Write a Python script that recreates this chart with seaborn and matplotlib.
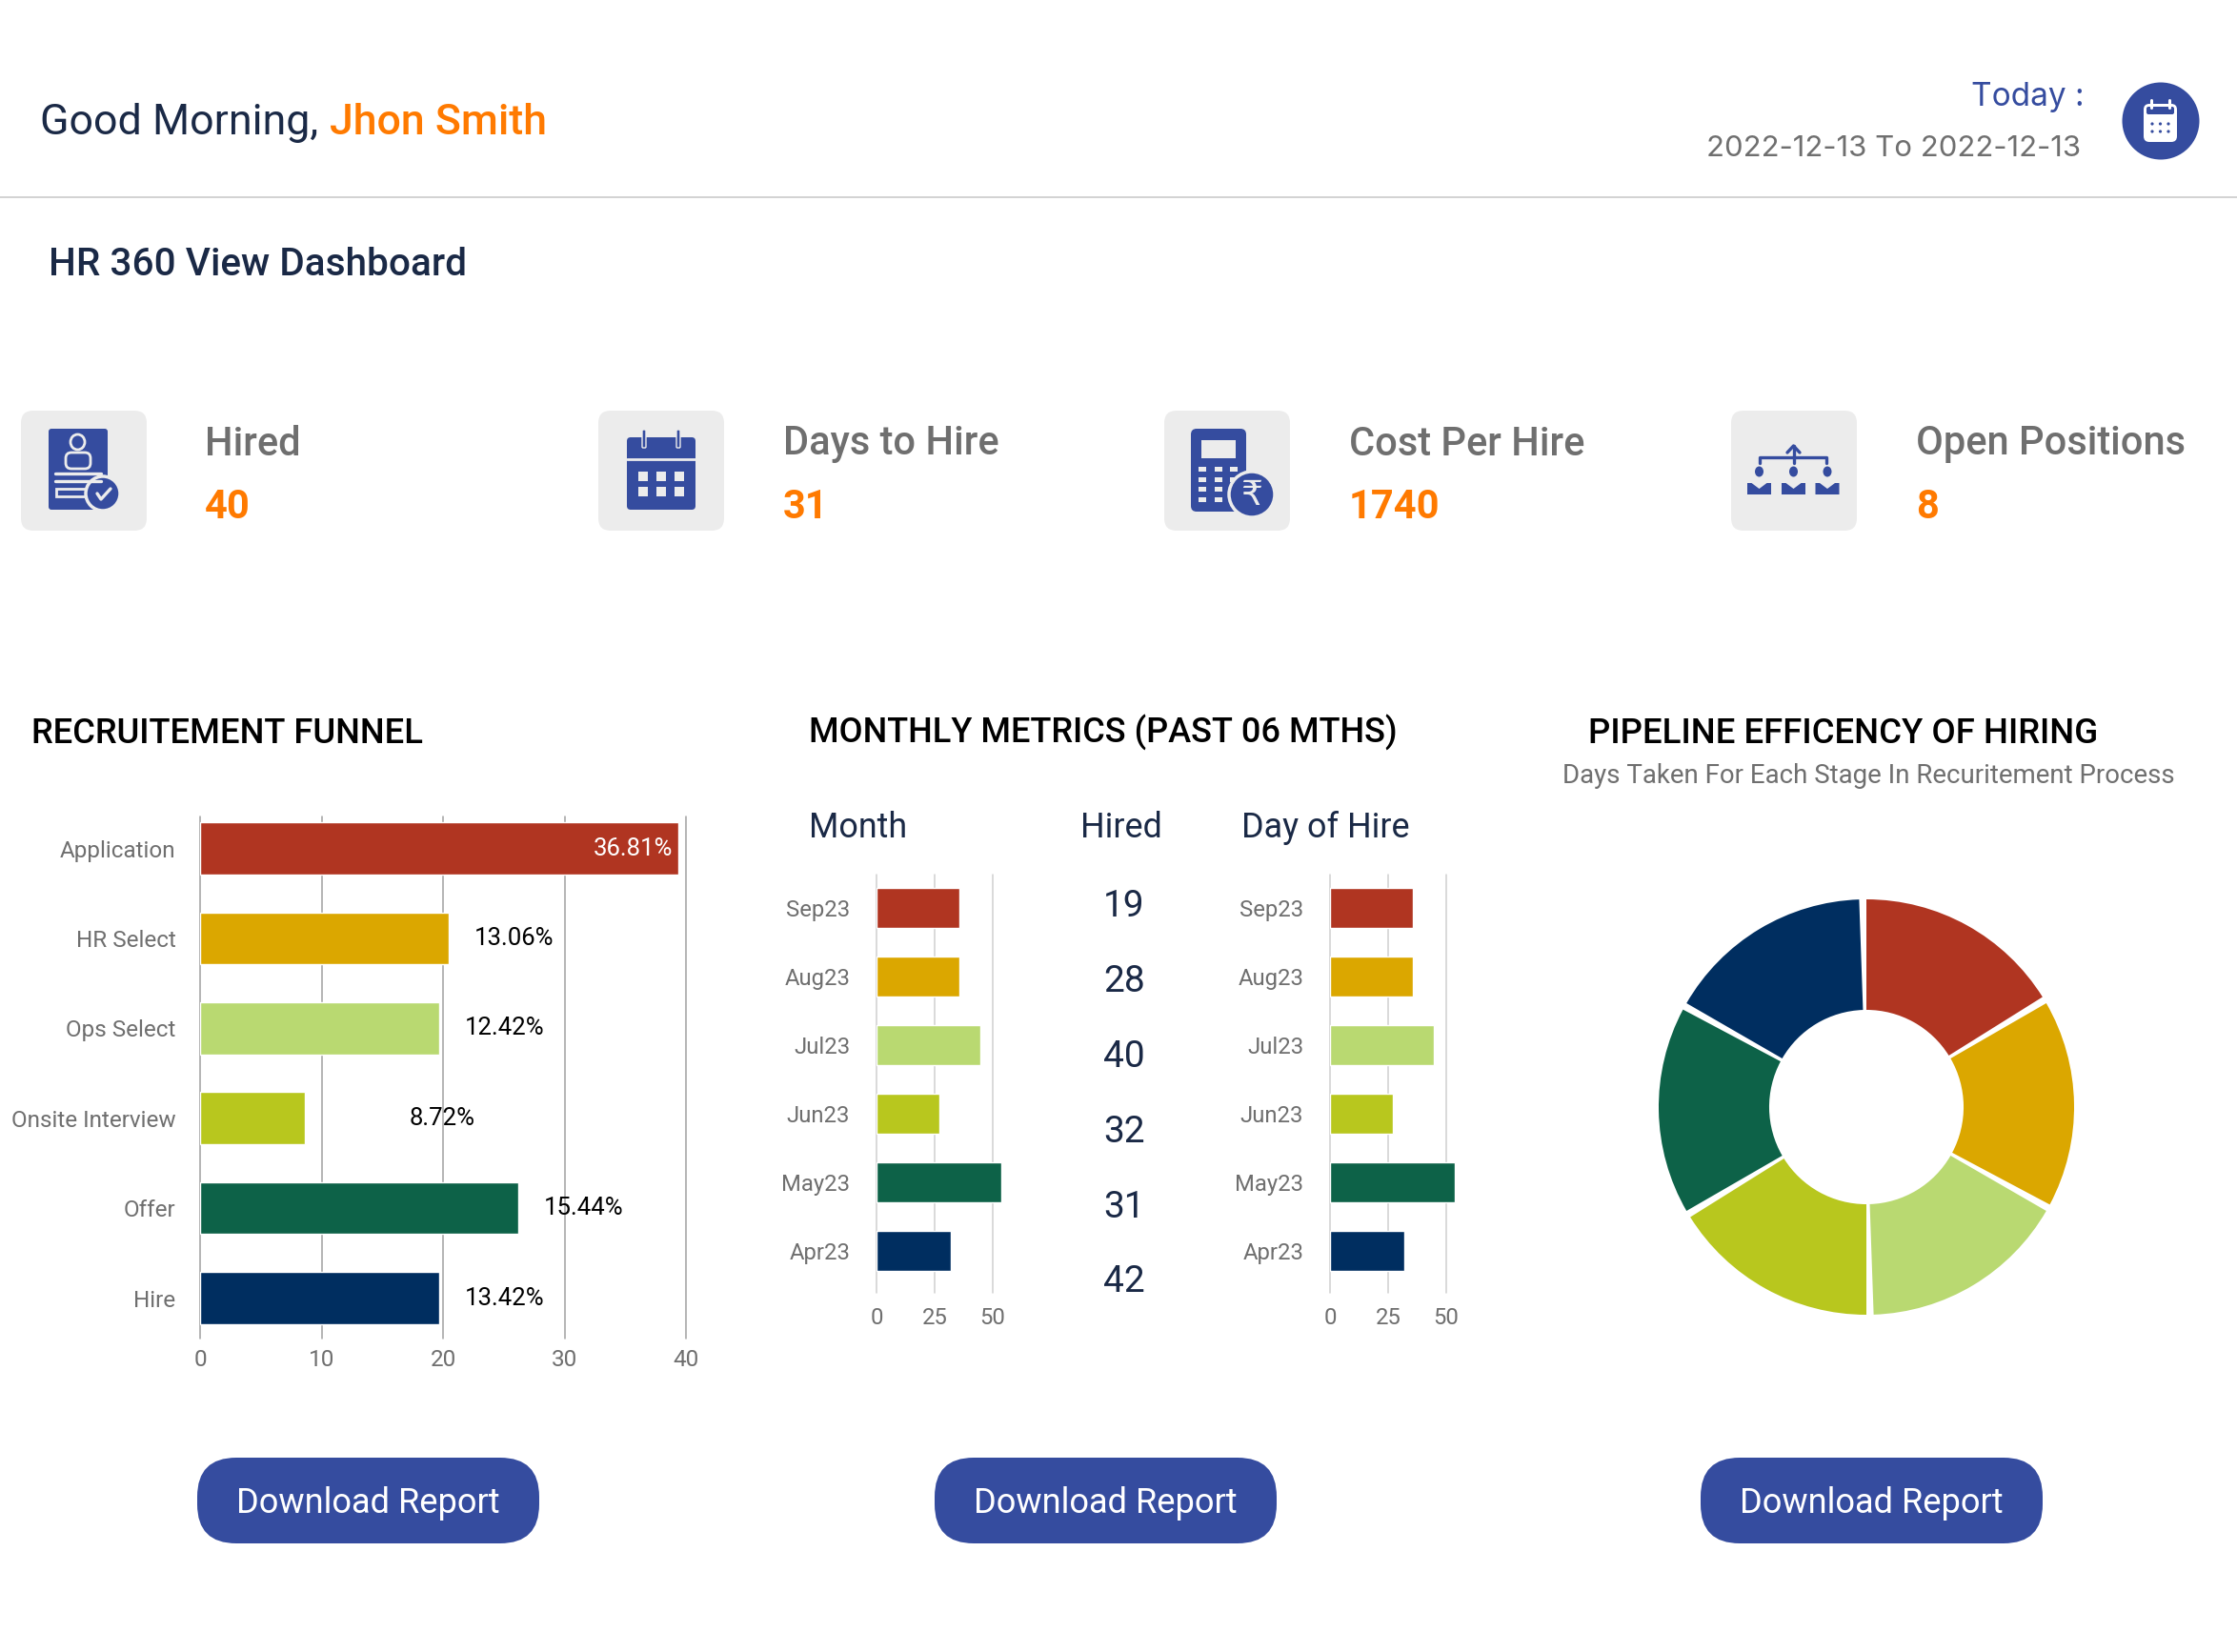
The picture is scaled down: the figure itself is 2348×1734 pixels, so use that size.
import matplotlib
matplotlib.use("Agg")
import matplotlib.pyplot as plt
from matplotlib.patches import FancyBboxPatch, Circle, Ellipse, Rectangle, Polygon
import seaborn as sns

W, H = 2348, 1734

# funnel
funnel_stages = ["Application", "HR Select", "Ops Select", "Onsite Interview", "Offer", "Hire"]
funnel_values = [39.35, 20.5, 19.7, 8.65, 26.2, 19.7]
funnel_labels = ["36.81%", "13.06%", "12.42%", "8.72%", "15.44%", "13.42%"]
funnel_ticks = [0, 10, 20, 30, 40]

# monthly metrics
months = ["Sep23", "Aug23", "Jul23", "Jun23", "May23", "Apr23"]
month_values = [35.5, 35.5, 44.5, 27, 53.5, 32]
day_of_hire_values = [35.5, 35.5, 44.5, 27, 53.5, 32]
hired_counts = [19, 28, 40, 32, 31, 42]
month_ticks = [0, 25, 50]

# pipeline donut, six equal stages
pipeline_stages = ["Application", "HR Select", "Ops Select", "Onsite Interview", "Offer", "Hire"]
pipeline_days = [5, 5, 5, 5, 5, 5]

# kpi cards
kpi_names = ["Hired", "Days to Hire", "Cost Per Hire", "Open Positions"]
kpi_values = ["40", "31", "1740", "8"]

colors = ["#B03521", "#DBA700", "#B9D971", "#B8C71E", "#0D6248", "#002E60"]
BLUE = "#354C9F"
ORANGE = "#FF7A00"
NAVY = "#1A2946"
GREY = "#6F6F6F"
CARD = "#ECECEC"

sns.set_theme(style="white")
plt.rcParams["font.family"] = ["Roboto", "DejaVu Sans"]

fig = plt.figure(figsize=(W / 100, H / 100), dpi=100, facecolor="white")
bg = fig.add_axes([0, 0, 1, 1])
bg.set_xlim(0, W)
bg.set_ylim(H, 0)
bg.axis("off")


def px_axes(left, top, right, bottom):
    ax = fig.add_axes([left / W, 1 - bottom / H, (right - left) / W, (bottom - top) / H])
    ax.patch.set_alpha(0)
    return ax


def round_box(x0, y0, x1, y1, r, color, **kw):
    bg.add_patch(FancyBboxPatch((x0 + r, y0 + r), x1 - x0 - 2 * r, y1 - y0 - 2 * r,
                                boxstyle=f"round,pad={r}", fc=color, ec="none", **kw))


def hbar(ax, labels, values, ticks, grid_color, size):
    sns.barplot(x=values, y=labels, hue=labels, palette=colors, legend=False,
                orient="h", width=0.58, ax=ax, saturation=1)
    sns.despine(ax=ax, left=True, bottom=True, top=True, right=True)
    ax.set_axisbelow(True)
    ax.xaxis.grid(True, color=grid_color, lw=1.1)
    ax.yaxis.grid(False)
    ax.set_xticks(ticks)
    ax.tick_params(axis="both", length=0, labelsize=size, labelcolor=GREY)
    ax.set_xlabel("")
    ax.set_ylabel("")
    for line in ax.get_xgridlines():
        line.set_clip_on(False)


# header
bg.text(42, 129, "Good Morning, ", fontsize=32.2, color=NAVY, va="center")
bg.text(346, 129, "Jhon Smith", fontsize=32.2, color=ORANGE, va="center", fontweight="medium")
bg.text(2188, 102, "Today :", fontsize=24, color=BLUE, va="center", ha="right", family="Inter")
bg.text(2184, 156, "2022-12-13 To 2022-12-13", fontsize=22.4, color=GREY, va="center", ha="right", family="Inter")
bg.plot([0, W], [207, 207], color="#D2D2D2", lw=1.4)
bg.text(51, 278, "HR 360 View Dashboard", fontsize=29.2, color=NAVY, va="center", fontweight="medium")

# top right calendar button
bg.add_patch(Circle((2268, 127), 40.5, fc=BLUE, ec="none"))
round_box(2250, 109, 2285, 149, 6, "white")
round_box(2253, 112, 2282, 120, 2, BLUE)
for x in (2258, 2277):
    bg.plot([x, x], [105, 113], color="white", lw=2.2)
for y in (130, 138):
    for x in (2259, 2267.5, 2276):
        bg.add_patch(Circle((x, y), 1.6, fc=BLUE, ec="none"))

# kpi cards
card_lefts = [22, 628, 1222, 1817]
text_lefts = [215, 822, 1416, 2011]
for left, tx, name, val in zip(card_lefts, text_lefts, kpi_names, kpi_values):
    round_box(left, 431, left + 132, 557, 13, CARD)
    bg.text(tx, 466, name, fontsize=30, color=GREY, va="center", fontweight="medium")
    bg.text(tx, 532, val, fontsize=30, color=ORANGE, va="center", fontweight="bold")

# icon: document with person
round_box(51, 450, 113, 535, 3, BLUE)
bg.add_patch(Ellipse((81.5, 464), 15, 16, fc="none", ec=CARD, lw=2))
bg.add_patch(FancyBboxPatch((75, 481), 14, 5, boxstyle="round,pad=6", fc="none", ec=CARD, lw=2))
for y in (497, 505):
    bg.plot([58, 106], [y, y], color=CARD, lw=2.4)
bg.add_patch(Rectangle((59, 513), 34, 8, fc="none", ec=CARD, lw=2))
bg.add_patch(Circle((108, 518), 18, fc=BLUE, ec=CARD, lw=2.5))
bg.plot([102, 106, 116], [518, 524, 513], color=CARD, lw=2.4)

# icon: calendar
round_box(658, 459, 730, 535, 4, BLUE)
bg.plot([658, 730], [482, 482], color=CARD, lw=2)
for x in (676, 712):
    bg.add_patch(FancyBboxPatch((x - 1, 452), 2, 17, boxstyle="round,pad=1", fc=BLUE, ec=CARD, lw=1))
for y in (495, 511):
    for x in (670, 689, 708):
        bg.add_patch(Rectangle((x, y), 10, 10, fc=CARD, ec="none"))

# icon: calculator with rupee
round_box(1250, 450, 1308, 537, 6, BLUE)
bg.add_patch(Rectangle((1261, 462), 36, 19, fc=CARD, ec="none"))
for y in (490, 501, 511, 522):
    for x in (1258, 1275, 1291):
        bg.add_patch(Rectangle((x, y), 8, 4.5, fc=CARD, ec="none"))
bg.add_patch(Circle((1314, 519), 24, fc=BLUE, ec=CARD, lw=2.5))
bg.text(1314, 520, "\u20b9", fontsize=26, color=CARD, ha="center", va="center", family="DejaVu Sans")

# icon: org tree
bg.plot([1847, 1847, 1917, 1917], [486, 480, 480, 486], color=BLUE, lw=2.4)
bg.plot([1882.5, 1882.5], [468, 486], color=BLUE, lw=2.4)
bg.plot([1876, 1882.5, 1889], [475, 468, 475], color=BLUE, lw=2.4)
for cx in (1846.5, 1882.5, 1918):
    bg.add_patch(Ellipse((cx, 495), 9, 11, fc=BLUE, ec="none"))
    bg.add_patch(Polygon([(cx - 12.5, 519), (cx - 12.5, 507), (cx - 8, 507), (cx, 513),
                          (cx + 8, 507), (cx + 12.5, 507), (cx + 12.5, 519)], fc=BLUE, ec="none"))

# section titles
bg.text(33, 770, "RECRUITEMENT FUNNEL", fontsize=26.2, color="black", va="center", fontweight="medium")
bg.text(849, 769, "MONTHLY METRICS (PAST 06 MTHS)", fontsize=26, color="black", va="center", fontweight="medium")
bg.text(1667, 770, "PIPELINE EFFICENCY OF HIRING", fontsize=26.4, color="black", va="center", fontweight="medium")
bg.text(1640, 815, "Days Taken For Each Stage In Recuritement Process", fontsize=19.9, color=GREY, va="center")

# funnel bars
ax1 = px_axes(210, 857, 210 + 41 * 12.75, 1405)
hbar(ax1, funnel_stages, funnel_values, funnel_ticks, "#A0A0A0", 17.5)
ax1.set_xlim(0, 41)
ax1.set_ylim(5.45, -0.355)
ax1.tick_params(axis="y", pad=18.4)
ax1.tick_params(axis="x", pad=7.7)
label_gaps = [None, 26, 27, 109, 27, 27]
for i, (val, lab, gap) in enumerate(zip(funnel_values, funnel_labels, label_gaps)):
    if gap is None:
        ax1.annotate(lab, (val, i), xytext=(-6, 0), textcoords="offset pixels", ha="right",
                     va="center", color="white", fontsize=18.5)
    else:
        ax1.annotate(lab, (val, i), xytext=(gap, 0), textcoords="offset pixels", ha="left",
                     va="center", color="black", fontsize=18.5)

# monthly bars
for left, vals in ((920, month_values), (1396, day_of_hire_values)):
    ax = px_axes(left, 918, left + 56 * 2.44, 1356.5)
    hbar(ax, months, vals, month_ticks, "#CFCFCF", 17.2)
    ax.set_xlim(0, 56)
    ax.set_ylim(5.6, -0.486)
    ax.tick_params(axis="y", pad=20)
    ax.tick_params(axis="x", pad=11.5)

# monthly table headers and hired numbers
bg.text(849, 869, "Month", fontsize=25.8, color=NAVY, va="center")
bg.text(1134, 869, "Hired", fontsize=25.8, color=NAVY, va="center")
bg.text(1303, 869, "Day of Hire", fontsize=25.8, color=NAVY, va="center")
for i, n in enumerate(hired_counts):
    bg.text(1180, 952 + i * 78.8, str(n), fontsize=28, color=NAVY, va="center", ha="center")

# donut
ax3 = px_axes(1959 - 218, 1162 - 218, 1959 + 218, 1162 + 218)
wedges, _ = ax3.pie(pipeline_days, colors=colors, startangle=90, counterclock=False, radius=1,
                    wedgeprops={"width": 0.532, "linewidth": 0})
for w in wedges:
    w.set_theta1(w.theta1 + 2)
ax3.set_xlim(-1, 1)
ax3.set_ylim(-1, 1)

# download buttons
for left in (207, 981, 1785):
    round_box(left, 1530, left + 359, 1620, 41, BLUE)
    bg.text(left + 179, 1578, "Download Report", fontsize=26.1, color="white", ha="center", va="center")

fig.savefig("out.png", dpi=100)
